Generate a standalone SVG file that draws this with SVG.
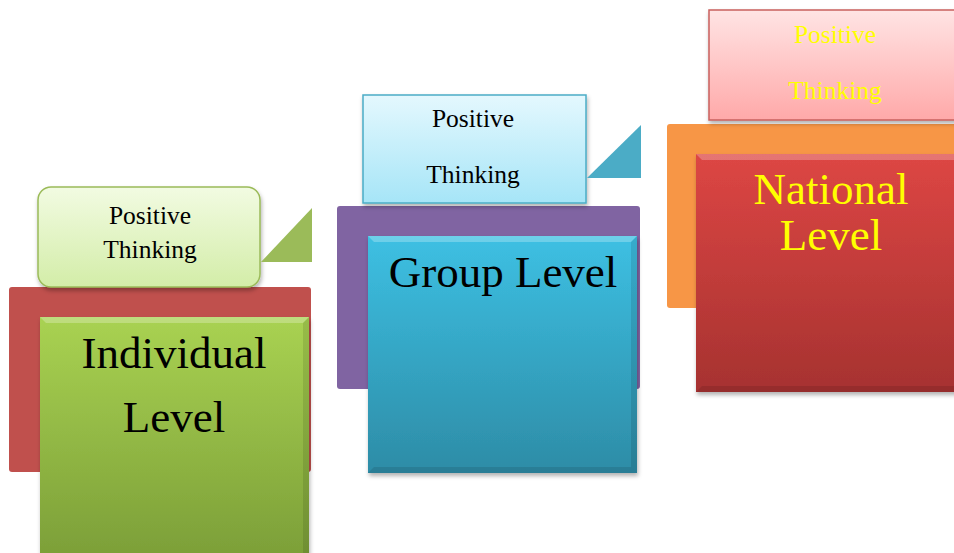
<svg xmlns="http://www.w3.org/2000/svg" width="954" height="553" viewBox="0 0 954 553">
<defs>
<linearGradient id="gGreen" x1="0" y1="0" x2="0" y2="1"><stop offset="0" stop-color="#A9D252"/><stop offset="1" stop-color="#7C9F38"/></linearGradient>
<linearGradient id="gBlue" x1="0" y1="0" x2="0" y2="1"><stop offset="0" stop-color="#3DC0E3"/><stop offset="1" stop-color="#2D8CA6"/></linearGradient>
<linearGradient id="gRed" x1="0" y1="0" x2="0" y2="1"><stop offset="0" stop-color="#DD4644"/><stop offset="1" stop-color="#A63230"/></linearGradient>
<linearGradient id="cGreen" x1="0" y1="0" x2="0" y2="1"><stop offset="0" stop-color="#F2FBE2"/><stop offset="1" stop-color="#D3EDA8"/></linearGradient>
<linearGradient id="cBlue" x1="0" y1="0" x2="0" y2="1"><stop offset="0" stop-color="#E4F8FE"/><stop offset="1" stop-color="#A6E5F7"/></linearGradient>
<linearGradient id="cPink" x1="0" y1="0" x2="0" y2="1"><stop offset="0" stop-color="#FFE4E4"/><stop offset="1" stop-color="#FFA9A9"/></linearGradient>
<filter id="sh" x="-10%" y="-10%" width="120%" height="120%"><feDropShadow dx="1" dy="3" stdDeviation="2" flood-color="#000" flood-opacity="0.3"/></filter>
</defs>
<style>
.ts{font-family:"Liberation Serif","Times New Roman",serif;font-size:25.5px;text-anchor:middle;fill:#000}
.tb{font-family:"Liberation Serif","Times New Roman",serif;font-size:45px;text-anchor:middle;fill:#000}
.y{fill:#FFFF00}
.hl{fill:#FFFFFF;opacity:0.25}
.dk{fill:#000000;opacity:0.1}
</style>
<g id="connectors"></g>

<g id="individual">
<rect x="9" y="287" width="302" height="185" rx="3" fill="#C0504D"/>
<rect x="38" y="187" width="222" height="100" rx="13" fill="url(#cGreen)" stroke="#9BBB59" stroke-width="1.5" filter="url(#sh)"/>
<path d="M261,262 L312,208 L312,262 Z" fill="#9BBB59"/>
<text class="ts" x="150" y="224">Positive</text>
<text class="ts" x="150" y="258">Thinking</text>
<rect x="40" y="317" width="269" height="240" fill="url(#gGreen)" filter="url(#sh)"/>
<path d="M40,317 L309,317 L303,323 L46,323 Z" class="hl"/>
<path d="M309,317 L309,557 L303,557 L303,323 Z" class="dk"/>
<text class="tb" x="174" y="368">Individual</text>
<text class="tb" x="174" y="432">Level</text>
</g>

<g id="group">
<rect x="337" y="206" width="303" height="183" rx="3" fill="#8064A2"/>
<rect x="363" y="95" width="223" height="108" fill="url(#cBlue)" stroke="#4BACC6" stroke-width="1.5" filter="url(#sh)"/>
<path d="M587,178 L641,125 L641,178 Z" fill="#4BACC6"/>
<text class="ts" x="473" y="127">Positive</text>
<text class="ts" x="473" y="183">Thinking</text>
<rect x="368" y="236" width="269" height="237" fill="url(#gBlue)" filter="url(#sh)"/>
<path d="M368,236 L637,236 L631,242 L374,242 Z" class="hl"/>
<path d="M637,236 L637,473 L631,467 L631,242 Z" class="dk"/>
<path d="M368,473 L637,473 L631,467 L374,467 Z" class="dk"/>
<text class="tb" x="503" y="287">Group Level</text>
</g>

<g id="national">
<rect x="667" y="124" width="292" height="184" rx="3" fill="#F79646"/>
<rect x="709" y="10" width="250" height="110" fill="url(#cPink)" stroke="#C9605E" stroke-width="1.5" filter="url(#sh)"/>
<text class="ts y" x="835" y="43">Positive</text>
<text class="ts y" x="835" y="99">Thinking</text>
<rect x="696" y="154" width="263" height="238" fill="url(#gRed)" filter="url(#sh)"/>
<path d="M696,154 L960,154 L960,160 L702,160 Z" class="hl"/>
<path d="M696,392 L960,392 L960,386 L702,386 Z" class="dk"/>
<text class="tb y" x="831" y="204">National</text>
<text class="tb y" x="831" y="250">Level</text>
</g>
</svg>
